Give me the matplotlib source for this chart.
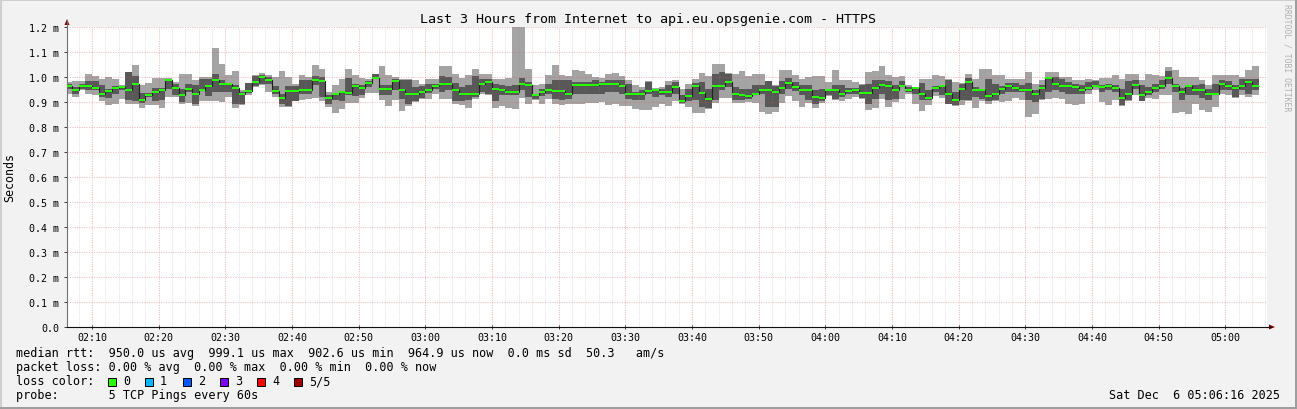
"""Latencia de las últimas 3 horas hacia api.eu.opsgenie.com (gráfico tipo SmokePing)."""

import numpy as np
import matplotlib
matplotlib.use("Agg")
import matplotlib.pyplot as plt
from matplotlib.patches import Rectangle, Polygon
from matplotlib.lines import Line2D

W, H = 1297, 410

# Un valor por minuto desde las 02:06 (minutos desde medianoche); rtt en microsegundos.
INICIO = 126
VENTANA = (126 + 16 / 60, 306 + 16 / 60)

RTT_MAX = [
    980, 983, 983, 1013, 1005, 992, 999, 992, 969, 1022,
    1049, 969, 975, 997, 997, 996, 980, 1013, 1013, 989,
    1000, 1000, 1115, 1051, 1007, 1023, 947, 976, 1007, 1016,
    1007, 1000, 1024, 1000, 971, 1009, 1000, 1049, 1033, 940,
    967, 993, 1033, 1007, 996, 993, 1013, 1043, 1009, 1000,
    993, 991, 987, 971, 993, 993, 1043, 1043, 1011, 997,
    1007, 1033, 1013, 1013, 992, 992, 997, 1230, 1230, 1031,
    967, 971, 1009, 1049, 1007, 1003, 1029, 1023, 1013, 1000,
    997, 1013, 1017, 1004, 987, 967, 960, 984, 956, 960,
    984, 989, 953, 971, 993, 1016, 1003, 1053, 1053, 1016,
    1013, 1024, 1003, 1013, 1011, 984, 967, 1027, 1027, 1007,
    993, 1000, 1004, 1004, 980, 1029, 989, 989, 980, 971,
    1020, 1023, 1043, 1007, 1000, 1003, 967, 960, 993, 993,
    1007, 1003, 993, 980, 976, 1013, 993, 1033, 1033, 1009,
    1007, 991, 993, 993, 1020, 973, 989, 1020, 1020, 1000,
    1000, 989, 989, 993, 989, 997, 997, 1007, 993, 1013,
    1013, 989, 1013, 1009, 1004, 1040, 1027, 1000, 1000, 1000,
    989, 967, 1007, 1009, 1007, 1007, 1000, 1027, 1043,
]
RTT_Q3 = [
    973, 960, 973, 983, 983, 967, 953, 963, 963, 1020,
    1005, 937, 935, 956, 956, 989, 973, 953, 973, 967,
    992, 993, 1013, 987, 973, 967, 940, 975, 1003, 1007,
    1000, 963, 933, 963, 963, 989, 989, 1003, 1000, 927,
    933, 941, 996, 971, 967, 983, 1011, 967, 967, 993,
    987, 987, 960, 963, 973, 973, 1003, 1000, 976, 960,
    969, 1003, 993, 991, 973, 969, 963, 967, 996, 980,
    933, 953, 973, 987, 987, 987, 980, 980, 980, 989,
    980, 989, 989, 989, 973, 940, 947, 980, 952, 951,
    967, 980, 927, 953, 976, 980, 953, 1013, 1020, 1013,
    960, 953, 953, 969, 967, 983, 963, 984, 996, 980,
    967, 967, 947, 953, 953, 967, 969, 956, 956, 967,
    973, 987, 987, 984, 967, 983, 960, 956, 976, 949,
    963, 969, 989, 940, 971, 997, 960, 953, 993, 971,
    963, 976, 976, 969, 977, 947, 967, 1000, 1000, 993,
    980, 973, 967, 980, 983, 967, 973, 969, 953, 984,
    987, 967, 960, 973, 989, 1023, 973, 956, 967, 969,
    971, 953, 973, 987, 984, 969, 993, 993, 993,
]
RTT_MED = [
    964, 949, 964, 964, 955, 931, 943, 956, 960, 949,
    973, 909, 929, 941, 949, 987, 957, 927, 953, 931,
    947, 963, 989, 971, 971, 957, 931, 943, 981, 999,
    987, 943, 915, 943, 943, 949, 947, 987, 983, 917,
    931, 940, 937, 964, 955, 976, 997, 951, 951, 983,
    947, 933, 931, 939, 949, 964, 973, 973, 947, 933,
    931, 931, 973, 979, 951, 947, 939, 941, 973, 969,
    927, 939, 949, 943, 943, 931, 969, 967, 967, 967,
    973, 971, 971, 964, 931, 931, 931, 943, 949, 940,
    940, 959, 903, 924, 963, 937, 913, 965, 963, 981,
    931, 927, 924, 931, 949, 949, 941, 957, 977, 959,
    949, 947, 919, 915, 947, 949, 933, 945, 949, 935,
    937, 955, 967, 964, 949, 963, 948, 955, 931, 917,
    957, 965, 931, 907, 953, 979, 947, 947, 924, 933,
    953, 964, 957, 949, 947, 931, 955, 995, 973, 963,
    963, 959, 949, 955, 963, 960, 963, 957, 915, 931,
    967, 927, 939, 955, 963, 996, 963, 940, 963, 949,
    949, 931, 933, 971, 965, 955, 965, 979, 965,
]
RTT_Q1 = [
    951, 931, 953, 947, 947, 920, 917, 933, 947, 909,
    904, 896, 920, 904, 907, 953, 927, 900, 940, 893,
    945, 923, 940, 940, 940, 893, 893, 936, 963, 973,
    973, 933, 893, 883, 905, 933, 933, 967, 920, 893,
    907, 904, 927, 923, 927, 960, 993, 927, 927, 947,
    913, 893, 905, 915, 936, 953, 940, 947, 904, 904,
    907, 920, 940, 933, 904, 927, 927, 927, 947, 920,
    913, 923, 933, 913, 907, 913, 931, 931, 931, 931,
    933, 940, 940, 931, 913, 909, 909, 931, 920, 927,
    920, 931, 895, 904, 907, 880, 875, 907, 947, 960,
    909, 907, 913, 929, 931, 880, 880, 931, 953, 943,
    927, 907, 893, 904, 927, 913, 920, 931, 931, 917,
    893, 913, 933, 909, 913, 960, 940, 933, 907, 907,
    940, 927, 893, 887, 907, 907, 920, 913, 904, 907,
    931, 940, 940, 940, 907, 900, 913, 940, 947, 940,
    931, 931, 931, 949, 960, 940, 947, 940, 889, 907,
    953, 904, 927, 940, 953, 973, 940, 909, 927, 929,
    917, 909, 931, 947, 947, 920, 947, 931, 947,
]
RTT_MIN = [
    933, 920, 947, 933, 927, 903, 887, 891, 911, 893,
    893, 877, 887, 887, 877, 920, 920, 893, 896, 883,
    904, 904, 904, 900, 920, 876, 887, 927, 960, 967,
    940, 920, 880, 880, 904, 907, 913, 917, 904, 880,
    856, 873, 896, 896, 917, 936, 936, 907, 883, 907,
    863, 883, 900, 912, 913, 933, 913, 913, 893, 889,
    877, 913, 933, 927, 877, 883, 877, 873, 917, 893,
    907, 893, 913, 893, 889, 891, 893, 893, 896, 896,
    900, 887, 893, 883, 883, 873, 867, 869, 880, 893,
    883, 904, 893, 880, 857, 857, 873, 897, 917, 917,
    896, 896, 899, 897, 860, 853, 860, 897, 923, 904,
    880, 896, 877, 896, 923, 907, 904, 913, 920, 913,
    867, 877, 913, 880, 900, 913, 933, 891, 864, 887,
    923, 917, 891, 883, 887, 904, 877, 904, 893, 904,
    900, 904, 917, 909, 840, 851, 909, 913, 917, 913,
    893, 887, 893, 933, 947, 900, 887, 907, 885, 904,
    927, 903, 917, 913, 927, 927, 856, 860, 853, 891,
    869, 860, 880, 933, 927, 918, 927, 920, 927,
]

HORAS = [130, 140, 150, 160, 170, 180, 190, 200, 210, 220, 230, 240, 250, 260, 270, 280, 290, 300]
ETIQUETAS_HORA = ["02:10", "02:20", "02:30", "02:40", "02:50", "03:00", "03:10", "03:20", "03:30",
                  "03:40", "03:50", "04:00", "04:10", "04:20", "04:30", "04:40", "04:50", "05:00"]
VALORES_Y = [0, 100, 200, 300, 400, 500, 600, 700, 800, 900, 1000, 1100, 1200]
ETIQUETAS_Y = ["0.0", "0.1 m", "0.2 m", "0.3 m", "0.4 m", "0.5 m", "0.6 m",
               "0.7 m", "0.8 m", "0.9 m", "1.0 m", "1.1 m", "1.2 m"]

COLORES_PERDIDA = ["#26ff00", "#00b8ff", "#0059ff", "#7e00ff", "#ff0000", "#a10000"]
ETIQUETAS_PERDIDA = ["0", "1", "2", "3", "4", "5/5"]

TITULO = "Last 3 Hours from Internet to api.eu.opsgenie.com - HTTPS"
LINEA_RTT = "median rtt:  950.0 us avg  999.1 us max  902.6 us min  964.9 us now  0.0 ms sd  50.3   am/s"
LINEA_PERDIDA = "packet loss: 0.00 % avg  0.00 % max  0.00 % min  0.00 % now"
LINEA_SONDA = "probe:       5 TCP Pings every 60s"
FECHA = "Sat Dec  6 05:06:16 2025"

MONO = "DejaVu Sans Mono"


def px(x, y):
    """Pasa coordenadas en píxeles (origen arriba a la izquierda) a fracción de figura."""
    return (x / W, 1 - y / H)


fig = plt.figure(figsize=(W / 100, H / 100), dpi=100, facecolor="#f2f2f2")
ax = fig.add_axes([67 / W, 1 - 328 / H, 1200 / W, 300 / H])
ax.set_facecolor("white")

bordes = INICIO + np.arange(len(RTT_MED) + 1)
rmax = np.array(RTT_MAX)
rq3 = np.array(RTT_Q3)
rmed = np.array(RTT_MED)
rq1 = np.array(RTT_Q1)
rmin = np.array(RTT_MIN)

# humo: rango completo claro, rango intermedio oscuro
ax.stairs(rmax, bordes, baseline=rmin, fill=True, color="#a4a4a4", lw=0, zorder=1)
ax.stairs(rq3, bordes, baseline=rq1, fill=True, color="#585858", lw=0, zorder=1.2)

# rejilla punteada al estilo rrdtool
punteado = (0, (1, 1.4))
for m in range(128, 307, 2):
    if m % 10 == 0:
        ax.axvline(m, color="#e05050", alpha=0.4, lw=0.72, ls=punteado, zorder=2.5)
    else:
        ax.axvline(m, color="#8f8f8f", alpha=0.3, lw=0.72, ls=punteado, zorder=2.5)
for v in VALORES_Y[1:]:
    ax.axhline(v, color="#e05050", alpha=0.4, lw=0.72, ls=punteado, zorder=2.5)

# mediana: línea fina negra y banda verde de 2 px
ax.stairs(rmed, bordes, baseline=None, color="#202020", lw=0.8, zorder=3)
ax.stairs(rmed + 4, bordes, baseline=rmed - 4, fill=True, color="#26ff00", lw=0, zorder=3.5)

ax.set_xlim(*VENTANA)
ax.set_ylim(0, 1200)

ax.set_xticks(HORAS)
ax.set_xticklabels(ETIQUETAS_HORA)
ax.set_yticks(VALORES_Y)
ax.set_yticklabels(ETIQUETAS_Y)
ax.tick_params(axis="both", labelsize=7.2, colors="#404040", labelcolor="black")
ax.tick_params(axis="y", direction="out", length=2.5, width=0.72, pad=3.2)
ax.tick_params(axis="x", direction="inout", length=3, width=0.72, pad=2.0)
for lbl in ax.get_xticklabels() + ax.get_yticklabels():
    lbl.set_family(MONO)

for lado in ("top", "right"):
    ax.spines[lado].set_visible(False)
ax.spines["left"].set_color("#707070")
ax.spines["left"].set_linewidth(0.8)
ax.spines["bottom"].set_color("#101010")
ax.spines["bottom"].set_linewidth(0.8)

# prolongación de los ejes y flechas
fig.add_artist(Line2D(*zip(px(67, 28), px(67, 22)), color="#707070", lw=0.8))
fig.add_artist(Line2D(*zip(px(1267, 328), px(1271, 328)), color="#101010", lw=0.8))
fig.add_artist(Polygon([px(64.5, 26), px(69.5, 26), px(67, 20)], closed=True,
                       transform=fig.transFigure, color="#7f0000", lw=0))
fig.add_artist(Polygon([px(1269, 325.5), px(1269, 330.5), px(1275, 328)], closed=True,
                       transform=fig.transFigure, color="#7f0000", lw=0))

# marco sombreado de la imagen
fig.add_artist(Rectangle((0, 1 - 2 / H), 1, 2 / H, transform=fig.transFigure, color="#cfcfcf", lw=0))
fig.add_artist(Rectangle((0, 0), 2 / W, 1, transform=fig.transFigure, color="#cfcfcf", lw=0))
fig.add_artist(Rectangle((0, 0), 1, 2 / H, transform=fig.transFigure, color="#9e9e9e", lw=0))
fig.add_artist(Rectangle((1 - 2 / W, 0), 2 / W, 1, transform=fig.transFigure, color="#9e9e9e", lw=0))

# textos
fig.text(*px(648, 19), TITULO, ha="center", va="center", family=MONO, size=9.6)
fig.text(*px(10, 178), "Seconds", rotation=90, ha="center", va="center", family=MONO, size=8.4)
fig.text(*px(1287, 4), "RRDTOOL / TOBI OETIKER", rotation=-90, ha="center", va="top",
         family=MONO, size=5.9, color="#b0b0b0")

fig.text(*px(16, 354), LINEA_RTT, ha="left", va="center", family=MONO, size=8.45)
fig.text(*px(16, 368), LINEA_PERDIDA, ha="left", va="center", family=MONO, size=8.45)
fig.text(*px(16, 382), "loss color:", ha="left", va="center", family=MONO, size=8.45)
fig.text(*px(16, 396), LINEA_SONDA, ha="left", va="center", family=MONO, size=8.45)
fig.text(*px(1280, 396), FECHA, ha="right", va="center", family=MONO, size=8.45)

x_cajas = [108, 145, 183, 220, 257, 294]
for x0, color, etiqueta in zip(x_cajas, COLORES_PERDIDA, ETIQUETAS_PERDIDA):
    fig.add_artist(Rectangle(px(x0, 386.5), 8 / W, 8 / H, transform=fig.transFigure,
                             facecolor=color, edgecolor="black", lw=0.72))
    fig.text(*px(x0 + 15, 382), etiqueta, ha="left", va="center", family=MONO, size=8.45)

fig.savefig("out.png", dpi=100, facecolor=fig.get_facecolor())
